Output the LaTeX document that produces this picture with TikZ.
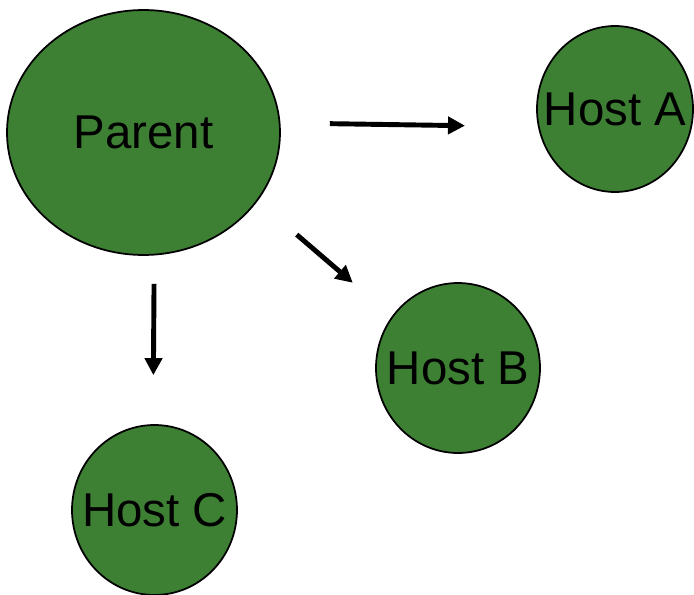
\documentclass[tikz,border=0pt]{standalone}
\usepackage{fontspec}
\setmainfont{Liberation Sans}
\usetikzlibrary{shapes.geometric, arrows.meta}
\definecolor{hostgreen}{RGB}{61, 128, 52}

\begin{document}
\begin{tikzpicture}[x=0.02cm, y=-0.02cm,
  hostnode/.style={draw, ellipse, fill=hostgreen, line width=1pt, inner sep=0pt, font=\fontsize{27}{32}\selectfont},
  sendarrow/.style={-{Triangle[length=0.34cm, width=0.34cm]}, line width=2.8pt}]
  \useasboundingbox (0, 0) rectangle (694, 595);

  % Parent
  \node[hostnode, minimum width=5.46cm, minimum height=4.9cm] (parent) at (143.5, 132.5) {Parent};

  % Hosts
  \node[hostnode, minimum width=3.12cm, minimum height=3.32cm] (hosta) at (615, 109) {\makebox[0pt]{Host A}};
  \node[hostnode, minimum width=3.28cm, minimum height=3.4cm] (hostb) at (458, 368) {\makebox[0pt]{Host B}};
  \node[hostnode, minimum width=3.3cm, minimum height=3.4cm] (hostc) at (154.5, 510) {\makebox[0pt]{Host C}};

  % Arrows
  \draw[sendarrow, shorten <=0.99cm, shorten >=1.46cm] (parent.4) -- (hosta.193);
  \draw[sendarrow, shorten <=1.03cm, shorten >=1.03cm] (parent.-31) -- (hostb.142);
  \draw[sendarrow, shorten <=0.57cm, shorten >=0.98cm] (parent.-85) -- (hostc.91);
\end{tikzpicture}
\end{document}
